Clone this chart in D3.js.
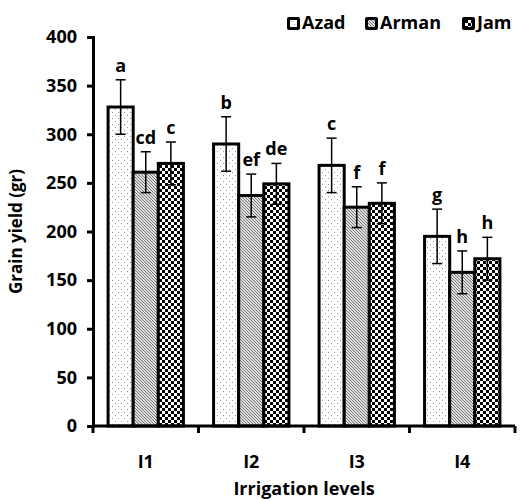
<!DOCTYPE html>
<html>
<head>
<meta charset="utf-8">
<script src="https://cdnjs.cloudflare.com/ajax/libs/d3/7.8.5/d3.min.js"></script>
<style>
  body { margin: 0; background: #fff; }
  text { font-family: "Open Sans", sans-serif; font-weight: bold; fill: #000; }
</style>
</head>
<body>
<script>
var levels = ["I1", "I2", "I3", "I4"];
var cultivars = ["Azad", "Arman", "Jam"];
var azad  = [328, 290, 268, 195];
var arman = [261, 237, 225, 158];
var jam   = [270, 249, 229, 172];
var azadErr  = [28, 28, 28, 28];
var armanErr = [21, 22, 21, 22];
var jamErr   = [22, 21, 21, 22];
var azadLetters  = ["a", "b", "c", "g"];
var armanLetters = ["cd", "ef", "f", "h"];
var jamLetters   = ["c", "de", "f", "h"];
var yTicks = [0, 50, 100, 150, 200, 250, 300, 350, 400];

var width = 521, height = 499;
var x0 = 93, x1 = 515, yTop = 37, yBot = 426;

var svg = d3.select("body").append("svg")
  .attr("width", width).attr("height", height);

var defs = svg.append("defs");

// dotted fill for Azad
var pDot = defs.append("pattern").attr("id", "p-azad")
  .attr("patternUnits", "userSpaceOnUse").attr("width", 6).attr("height", 6);
pDot.append("rect").attr("width", 6).attr("height", 6).attr("fill", "#fff");
pDot.append("rect").attr("x", 1).attr("y", 1).attr("width", 1).attr("height", 1).attr("fill", "#999");
pDot.append("rect").attr("x", 4).attr("y", 4).attr("width", 1).attr("height", 1).attr("fill", "#999");

// diagonal hatch for Arman
var pHatch = defs.append("pattern").attr("id", "p-arman")
  .attr("patternUnits", "userSpaceOnUse").attr("width", 3).attr("height", 3);
pHatch.append("rect").attr("width", 3).attr("height", 3).attr("fill", "#e0e0e0");
pHatch.append("path").attr("d", "M0,0 L3,3 M-1,2 L1,4 M2,-1 L4,1")
  .attr("stroke", "#777").attr("stroke-width", 1);

// checkerboard for Jam
var pChk = defs.append("pattern").attr("id", "p-jam")
  .attr("patternUnits", "userSpaceOnUse").attr("width", 6).attr("height", 6);
pChk.append("rect").attr("width", 6).attr("height", 6).attr("fill", "#fff");
pChk.append("rect").attr("width", 3).attr("height", 3).attr("fill", "#000");
pChk.append("rect").attr("x", 3).attr("y", 3).attr("width", 3).attr("height", 3).attr("fill", "#000");

var x = d3.scaleBand().domain(levels).range([x0, x1]).paddingInner(0).paddingOuter(0);
var xs = d3.scaleBand().domain(cultivars).range([0, x.bandwidth()]).paddingOuter(0.6).paddingInner(0);
var y = d3.scaleLinear().domain([0, 400]).range([yBot, yTop]);

var series = [
  { name: "Azad", vals: azad, err: azadErr, lab: azadLetters },
  { name: "Arman", vals: arman, err: armanErr, lab: armanLetters },
  { name: "Jam", vals: jam, err: jamErr, lab: jamLetters }
];

var rows = [];
series.forEach(function(s) {
  levels.forEach(function(l, i) {
    rows.push({ level: l, name: s.name, v: s.vals[i], e: s.err[i], lab: s.lab[i] });
  });
});

svg.selectAll(".bar").data(rows).enter().append("rect")
  .attr("class", "bar")
  .attr("x", function(d) { return x(d.level) + xs(d.name); })
  .attr("y", function(d) { return y(d.v); })
  .attr("width", xs.bandwidth())
  .attr("height", function(d) { return yBot - y(d.v); })
  .attr("fill", function(d) { return "url(#p-" + d.name.toLowerCase() + ")"; })
  .attr("stroke", "#000").attr("stroke-width", 3);

var eb = svg.selectAll(".err").data(rows).enter().append("g").attr("class", "err")
  .attr("transform", function(d) { return "translate(" + (x(d.level) + xs(d.name) + xs.bandwidth() / 2) + ",0)"; });
eb.append("line").attr("y1", function(d) { return y(d.v + d.e); }).attr("y2", function(d) { return y(d.v - d.e); })
  .attr("stroke", "#000").attr("stroke-width", 1.5);
eb.append("line").attr("x1", -5).attr("x2", 5)
  .attr("y1", function(d) { return y(d.v + d.e); }).attr("y2", function(d) { return y(d.v + d.e); })
  .attr("stroke", "#000").attr("stroke-width", 1.5);
eb.append("line").attr("x1", -5).attr("x2", 5)
  .attr("y1", function(d) { return y(d.v - d.e); }).attr("y2", function(d) { return y(d.v - d.e); })
  .attr("stroke", "#000").attr("stroke-width", 1.5);
eb.append("text").attr("text-anchor", "middle")
  .attr("y", function(d) { return y(d.v + d.e) - 8; })
  .style("font-size", "18px")
  .text(function(d) { return d.lab; });

// axes
var yAxis = svg.append("g").attr("transform", "translate(" + x0 + ",0)")
  .call(d3.axisLeft(y).tickValues(yTicks).tickSize(6).tickPadding(10));
var xAxis = svg.append("g").attr("transform", "translate(0," + yBot + ")")
  .call(d3.axisBottom(x).tickSize(0).tickPadding(29));
[yAxis, xAxis].forEach(function(a) {
  a.select(".domain").attr("stroke", "#000").attr("stroke-width", 3);
  a.selectAll(".tick line").attr("stroke", "#000").attr("stroke-width", 3);
  a.selectAll("text").style("font-size", "18px").attr("fill", "#000");
});
xAxis.select(".domain").attr("d", "M" + x0 + ",0H" + x1);
// category boundary ticks
svg.selectAll(".ctick").data(levels.concat(["end"])).enter().append("line")
  .attr("x1", function(d, i) { return i < levels.length ? x(d) : x1; })
  .attr("x2", function(d, i) { return i < levels.length ? x(d) : x1; })
  .attr("y1", yBot).attr("y2", yBot + 7)
  .attr("stroke", "#000").attr("stroke-width", 3);

svg.append("text").attr("x", (x0 + x1) / 2).attr("y", 495).attr("text-anchor", "middle")
  .style("font-size", "18px").text("Irrigation levels");
svg.append("text").attr("transform", "translate(22," + ((yTop + yBot) / 2) + ") rotate(-90)")
  .attr("text-anchor", "middle").style("font-size", "17px").text("Grain yield (gr)");

// legend
var legX = [287, 365, 462];
var leg = svg.selectAll(".leg").data(cultivars).enter().append("g")
  .attr("transform", function(d, i) { return "translate(" + legX[i] + ",17)"; });
leg.append("rect").attr("width", 13).attr("height", 13).attr("rx", 2).attr("fill", "#000");
leg.append("rect").attr("x", 3).attr("y", 3).attr("width", 7).attr("height", 7)
  .attr("fill", function(d) { return "url(#p-" + d.toLowerCase() + ")"; });
leg.append("text").attr("x", 15).attr("y", 12).style("font-size", "18px").text(function(d) { return d; });
</script>
</body>
</html>
